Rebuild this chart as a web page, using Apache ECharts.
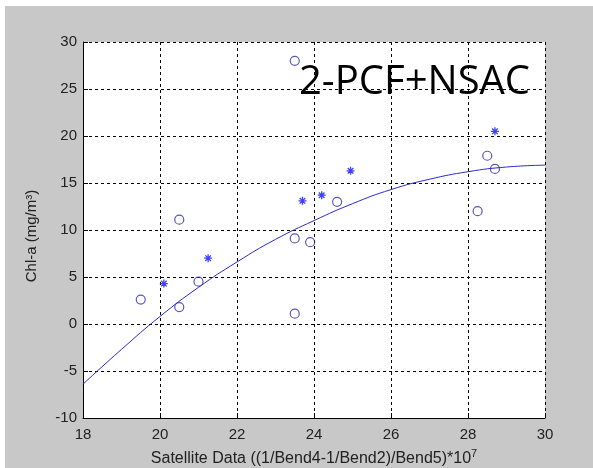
<!DOCTYPE html>
<html>
<head>
<meta charset="utf-8">
<script src="https://cdn.jsdelivr.net/npm/echarts@6/dist/echarts.min.js"></script>
<style>
html,body{margin:0;padding:0;background:#fff;}
#bg{position:absolute;left:5px;top:6px;width:588px;height:462px;background:#c8c8c8;}
#chart{position:absolute;left:0;top:0;width:593px;height:468px;}
</style>
</head>
<body>
<div id="bg"></div>
<div id="chart"></div>
<script>
// Data
const circleX = [19.5, 20.5, 21.0, 20.5, 23.5, 23.5, 23.5, 23.9, 24.6, 28.25, 28.5, 28.7];
const circleY = [2.6, 1.8, 4.5, 11.1, 28.0, 9.1, 1.1, 8.7, 13.0, 12.0, 17.9, 16.5];
const starX = [20.1, 21.25, 23.7, 24.2, 24.95, 28.7];
const starY = [4.3, 7.0, 13.1, 13.7, 16.3, 20.5];
const curveX = [18, 19, 20, 21, 22, 23, 24, 25, 26, 27, 28, 29, 30];
const curveY = [-6.4, -2.7, 0.8, 3.9, 6.6, 9.0, 11.0, 12.8, 14.3, 15.4, 16.2, 16.7, 16.9];
const xTicks = {min: 18, max: 30, interval: 2};
const yTicks = {min: -10, max: 30, interval: 5};
const labelText = '2-PCF+NSAC';
const xName = 'Satellite Data ((1/Bend4-1/Bend2)/Bend5)*10';
const xNameSup = '7';
const yName = 'Chl-a (mg/m\u00b3)';

const zip = (a, b) => a.map((v, i) => [v, b[i]]);
const starPath = 'path://M0,-10 L0,10 M-10,0 L10,0 M-7,-7 L7,7 M-7,7 L7,-7';

const chart = echarts.init(document.getElementById('chart'), null, {renderer: 'canvas'});
const axisFont = {fontFamily: 'Liberation Sans, Arial, sans-serif', fontSize: 15, color: '#222'};
const split = {show: true, lineStyle: {color: '#000', width: 1, type: [3, 3]}};
chart.setOption({
  backgroundColor: 'transparent',
  animation: false,
  grid: {left: 83, top: 42, right: 48, bottom: 50, show: true, backgroundColor: '#fff', borderWidth: 0,
         containLabel: false, outerBoundsMode: 'none'},
  xAxis: {
    type: 'value', min: xTicks.min, max: xTicks.max, interval: xTicks.interval,
    axisLine: {show: true, onZero: false, lineStyle: {color: '#000', width: 1}},
    axisTick: {show: true, inside: true, length: 5, lineStyle: {color: '#000'}},
    axisLabel: Object.assign({margin: 9}, axisFont),
    splitLine: split,
    name: '{a|' + xName + '}{s|' + xNameSup + '}',
    nameLocation: 'middle', nameGap: 29,
    nameTextStyle: {
      rich: {
        a: {fontFamily: 'Liberation Sans, Arial, sans-serif', fontSize: 16, color: '#222', lineHeight: 20, verticalAlign: 'bottom'},
        s: {fontFamily: 'Liberation Sans, Arial, sans-serif', fontSize: 11, color: '#222', lineHeight: 12, padding: [0, 0, 8, 0], verticalAlign: 'bottom'}
      }
    }
  },
  yAxis: {
    type: 'value', min: yTicks.min, max: yTicks.max, interval: yTicks.interval,
    axisLine: {show: true, onZero: false, lineStyle: {color: '#000', width: 1}},
    axisTick: {show: true, inside: true, length: 5, lineStyle: {color: '#000'}},
    axisLabel: Object.assign({margin: 6}, axisFont),
    splitLine: split,
    name: yName, nameLocation: 'middle', nameGap: 44, nameRotate: 90,
    nameTextStyle: {fontFamily: 'Liberation Sans, Arial, sans-serif', fontSize: 15, color: '#222', padding: [0, 12, 0, 0]}
  },
  graphic: [{
    type: 'text', left: 299, top: 63, z: 100,
    style: {text: labelText, font: '40px "Open Sans", sans-serif', fill: '#000'}
  }],
  series: [
    {
      type: 'line', data: zip(curveX, curveY), smooth: true, showSymbol: false,
      lineStyle: {color: '#2a2ad0', width: 1}, z: 2
    },
    {
      type: 'scatter', data: zip(circleX, circleY), symbol: 'circle', symbolSize: 9,
      itemStyle: {color: 'rgba(0,0,0,0)', borderColor: '#2e2eb0', borderWidth: 1.2}, z: 3
    },
    {
      type: 'scatter', data: zip(starX, starY), symbol: starPath, symbolSize: 8,
      itemStyle: {color: 'rgba(0,0,0,0)', borderColor: '#1010ff', borderWidth: 1.3}, z: 3
    }
  ]
});
</script>
</body>
</html>
